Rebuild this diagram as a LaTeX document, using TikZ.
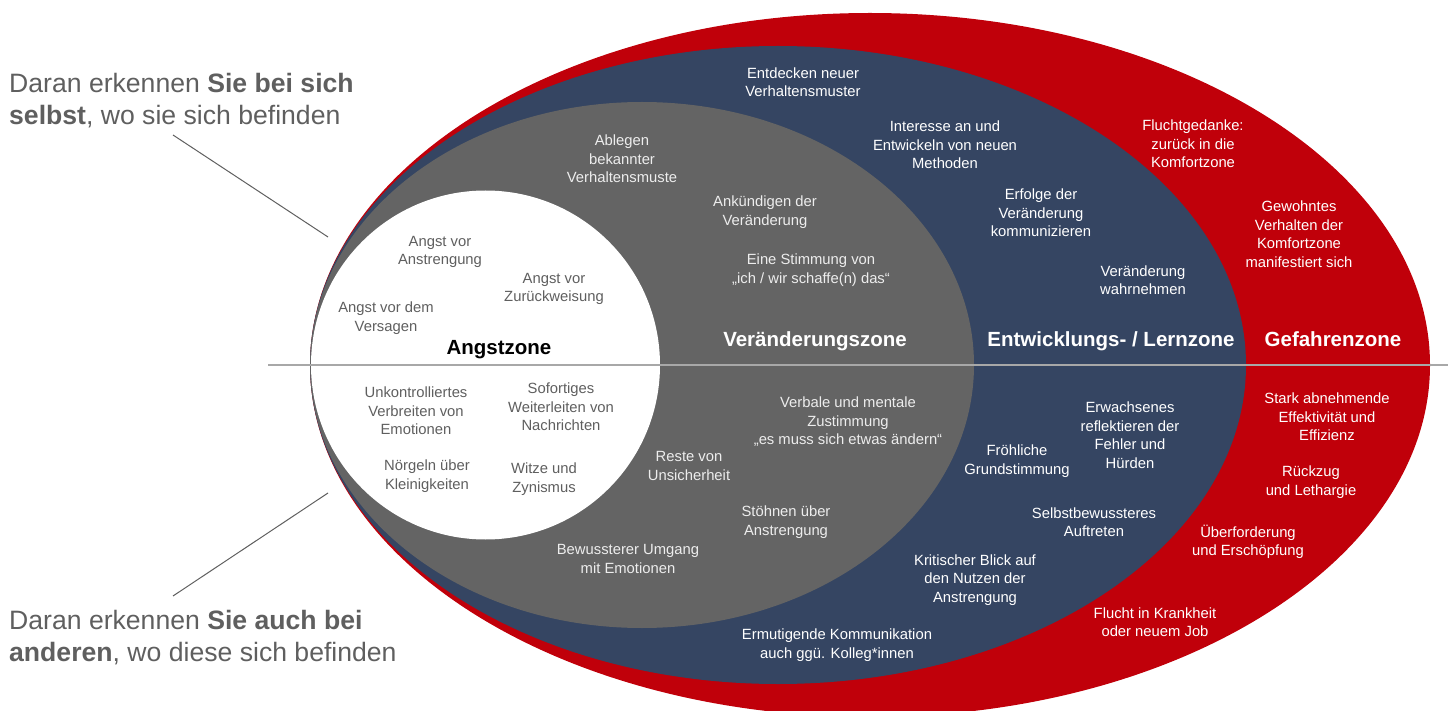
\documentclass[tikz,border=0pt]{standalone}
\usepackage{fontspec}
\setmainfont{Liberation Sans}
\usepackage{tikz}
\usetikzlibrary{calc}

\definecolor{zonered}{HTML}{C0000A}
\definecolor{zoneblue}{HTML}{354562}
\definecolor{zonegray}{HTML}{646464}
\definecolor{txtgray}{HTML}{5F5F5F}
\definecolor{linegray}{HTML}{A8A8A8}

\tikzset{
  note/.style={align=center, inner sep=0pt, font=\fontsize{14.8}{18.5}\selectfont},
  onwhite/.style={note, text=txtgray},
  ongray/.style={note, text=white!93!black},
  ondark/.style={note, text=white},
  zonelabel/.style={anchor=base, inner sep=0pt, font=\fontsize{20.5}{24}\selectfont\bfseries},
  hint/.style={align=left, anchor=north west, inner sep=0pt, text=txtgray, font=\fontsize{26.6}{32}\selectfont},
}

\begin{document}
\begin{tikzpicture}[x=1pt, y=-1pt]
    \clip (0,0) rectangle (1454,711);

    \coordinate (R0) at (870,365);
    \coordinate (B0) at (778,365);
    \coordinate (G0) at (642,365);
    \coordinate (W0) at (485.5,365);
    \coordinate (L1) at (268,365);
    \coordinate (L2) at (1448,365);
    \coordinate (P1) at (173,135);
    \coordinate (P2) at (328,237);
    \coordinate (P3) at (328,493);
    \coordinate (P4) at (173,596);

    \fill [zonered] (R0) ellipse [x radius=560pt, y radius=352pt];
    \fill [zoneblue] (B0) ellipse [x radius=468pt, y radius=319pt];
    \fill [zonegray] (G0) ellipse [x radius=332pt, y radius=263pt];
    \fill [white] (W0) circle [radius=174.5pt];

    \draw [linegray, line width=2.2pt] (L1) -- (L2);
    \draw [txtgray, line width=1pt] (P1) -- (P2);
    \draw [txtgray, line width=1pt] (P3) -- (P4);

    \node [hint] (hintTop) at (9,73) {Daran erkennen \textbf{Sie bei sich}\\\textbf{selbst}, wo sie sich befinden};
    \node [hint] (hintBot) at (9,610) {Daran erkennen \textbf{Sie auch bei}\\\textbf{anderen}, wo diese sich befinden};

    % zone titles
    \node [zonelabel, text=black] (zAngst) at (499,355) {Angstzone};
    \node [zonelabel, text=white] (zVer) at (815,347) {Veränderungszone};
    \node [zonelabel, text=white] (zLern) at (1111,347) {Entwicklungs- / Lernzone};
    \node [zonelabel, text=white] (zGef) at (1333,347) {Gefahrenzone};

    % Angstzone
    \node [onwhite] (a1) at (440,252) {Angst vor\\Anstrengung};
    \node [onwhite] (a2) at (554,289) {Angst vor\\Zurückweisung};
    \node [onwhite] (a3) at (386,318) {Angst vor dem\\Versagen};
    \node [onwhite] (a4) at (416,411) {Unkontrolliertes\\Verbreiten von\\Emotionen};
    \node [onwhite] (a5) at (561,407) {Sofortiges\\Weiterleiten von\\Nachrichten};
    \node [onwhite] (a6) at (427,476) {Nörgeln über\\Kleinigkeiten};
    \node [onwhite] (a7) at (544,479) {Witze und\\Zynismus};

    % Veraenderungszone
    \node [ongray] (v1) at (622,159) {Ablegen\\bekannter\\Verhaltensmuste};
    \node [ongray] (v2) at (765,212) {Ankündigen der\\Veränderung};
    \node [ongray] (v3) at (811,270) {Eine Stimmung von\\„ich / wir schaffe(n) das“};
    \node [ongray] (v4) at (848,422) {Verbale und mentale\\Zustimmung\\„es muss sich etwas ändern“};
    \node [ongray] (v5) at (689,466) {Reste von\\Unsicherheit};
    \node [ongray] (v6) at (786,522) {Stöhnen über\\Anstrengung};
    \node [ongray] (v7) at (628,559) {Bewussterer Umgang\\mit Emotionen};

    % Lernzone
    \node [ondark] (e1) at (803,82) {Entdecken neuer\\Verhaltensmuster};
    \node [ondark] (e2) at (945,145) {Interesse an und\\Entwickeln von neuen\\Methoden};
    \node [ondark] (e3) at (1041,213) {Erfolge der\\Veränderung\\kommunizieren};
    \node [ondark] (e4) at (1143,280) {Veränderung\\wahrnehmen};
    \node [ondark] (e5) at (1130,435) {Erwachsenes\\reflektieren der\\Fehler und\\Hürden};
    \node [ondark] (e6) at (1017,461) {Fröhliche\\Grundstimmung};
    \node [ondark] (e7) at (1094,522) {Selbstbewussteres\\Auftreten};
    \node [ondark] (e8) at (975,580) {Kritischer Blick auf\\den Nutzen der\\Anstrengung};
    \node [ondark] (e9) at (837,645) {Ermutigende Kommunikation\\auch ggü. Kolleg*innen};

    % Gefahrenzone
    \node [ondark] (g1) at (1193,144) {Fluchtgedanke:\\zurück in die\\Komfortzone};
    \node [ondark] (g2) at (1299,234) {Gewohntes\\Verhalten der\\Komfortzone\\manifestiert sich};
    \node [ondark] (g3) at (1327,417) {Stark abnehmende\\Effektivität und\\Effizienz};
    \node [ondark] (g4) at (1311,482) {Rückzug\\und Lethargie};
    \node [ondark] (g5) at (1248,542) {Überforderung\\und Erschöpfung};
    \node [ondark] (g6) at (1155,622) {Flucht in Krankheit\\oder neuem Job};

  \end{tikzpicture}
\end{document}
